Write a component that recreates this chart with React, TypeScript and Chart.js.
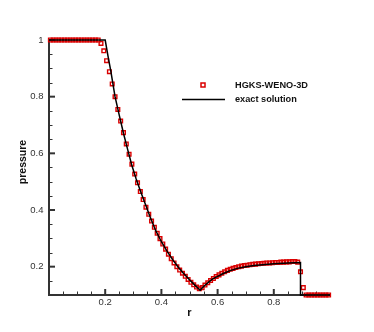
import React, { useEffect, useRef } from "react";
import { Chart, registerables } from "chart.js";
Chart.register(...registerables);

// ---- data ----
const numR = [
  0.005, 0.015, 0.025, 0.035, 0.045, 0.055, 0.065, 0.075, 0.085, 0.095,
  0.105, 0.115, 0.125, 0.135, 0.145, 0.155, 0.165, 0.175, 0.185, 0.195,
  0.205, 0.215, 0.225, 0.235, 0.245, 0.255, 0.265, 0.275, 0.285, 0.295,
  0.305, 0.315, 0.325, 0.335, 0.345, 0.355, 0.365, 0.375, 0.385, 0.395,
  0.405, 0.415, 0.425, 0.435, 0.445, 0.455, 0.465, 0.475, 0.485, 0.495,
  0.505, 0.515, 0.525, 0.535, 0.545, 0.555, 0.565, 0.575, 0.585, 0.595,
  0.605, 0.615, 0.625, 0.635, 0.645, 0.655, 0.665, 0.675, 0.685, 0.695,
  0.705, 0.715, 0.725, 0.735, 0.745, 0.755, 0.765, 0.775, 0.785, 0.795,
  0.805, 0.815, 0.825, 0.835, 0.845, 0.855, 0.865, 0.875, 0.885, 0.895,
  0.905, 0.915, 0.925, 0.935, 0.945, 0.955, 0.965, 0.975, 0.985, 0.995,
];
const numP = [
  1, 1, 1, 1, 1, 1, 1, 1, 1, 1,
  1, 1, 1, 1, 1, 1, 1, 1, 0.988, 0.962,
  0.927, 0.888, 0.845, 0.8, 0.755, 0.714, 0.673, 0.633, 0.597, 0.562,
  0.527, 0.496, 0.465, 0.437, 0.41, 0.385, 0.361, 0.339, 0.318, 0.299,
  0.28, 0.262, 0.244, 0.228, 0.213, 0.2, 0.188, 0.177, 0.166, 0.155,
  0.145, 0.136, 0.128, 0.122, 0.126, 0.135, 0.143, 0.151, 0.158, 0.165,
  0.171, 0.177, 0.182, 0.187, 0.191, 0.194, 0.197, 0.2, 0.202, 0.204,
  0.205, 0.207, 0.208, 0.209, 0.21, 0.211, 0.212, 0.213, 0.213, 0.214,
  0.215, 0.215, 0.216, 0.216, 0.217, 0.217, 0.218, 0.218, 0.216, 0.182,
  0.126, 0.1, 0.1, 0.1, 0.1, 0.1, 0.1, 0.1, 0.1, 0.1,
];
const exactR = [
  0, 0.2, 0.21, 0.22, 0.235, 0.25, 0.265, 0.28, 0.295, 0.31, 0.325, 0.34,
  0.36, 0.38, 0.4, 0.42, 0.44, 0.46, 0.48, 0.5, 0.52, 0.538, 0.55, 0.565,
  0.58, 0.6, 0.62, 0.645, 0.67, 0.7, 0.73, 0.76, 0.8, 0.85, 0.895, 0.895, 1.0,
];
const exactP = [
  1, 1, 0.943, 0.89, 0.8, 0.735, 0.671, 0.613, 0.557, 0.51, 0.468, 0.428,
  0.375, 0.327, 0.288, 0.255, 0.225, 0.198, 0.175, 0.154, 0.134, 0.117, 0.13, 0.143,
  0.155, 0.166, 0.176, 0.186, 0.194, 0.2, 0.204, 0.207, 0.21, 0.213, 0.215, 0.1, 0.1,
];
const xTicks = [0.2, 0.4, 0.6, 0.8];
const yTicks = [0.2, 0.4, 0.6, 0.8, 1];
const xMinor = [0.05, 0.1, 0.15, 0.25, 0.3, 0.35, 0.45, 0.5, 0.55, 0.65, 0.7, 0.75, 0.85, 0.9, 0.95];
const yMinor = [0.15, 0.25, 0.3, 0.35, 0.45, 0.5, 0.55, 0.65, 0.7, 0.75, 0.85, 0.9, 0.95];
const seriesNames = ["HGKS-WENO-3D", "exact solution"];
const xTitle = "r";
const yTitle = "pressure";

const FONT = "'Liberation Sans', Arial, Helvetica, sans-serif";
const AXIS = "#333333";
const RED = "rgb(218,0,0)";

const decor = {
  id: "decor",
  beforeDatasetsDraw(chart: any) {
    const { ctx, chartArea: a, scales } = chart;
    const x = scales.x;
    const y = scales.y;
    const seg = (x1: number, y1: number, x2: number, y2: number) => {
      ctx.beginPath();
      ctx.moveTo(x1, y1);
      ctx.lineTo(x2, y2);
      ctx.stroke();
    };
    ctx.save();
    ctx.strokeStyle = AXIS;
    ctx.lineWidth = 1;
    xMinor.forEach((v) => {
      const p = Math.round(x.getPixelForValue(v)) + 0.5;
      seg(p, a.bottom, p, a.bottom - 3.5);
    });
    yMinor.forEach((v) => {
      const p = Math.round(y.getPixelForValue(v)) + 0.5;
      seg(a.left, p, a.left + 3.5, p);
    });
    ctx.lineWidth = 2;
    xTicks.forEach((v) => {
      const p = x.getPixelForValue(v);
      seg(p, a.bottom, p, a.bottom - 6);
    });
    yTicks.forEach((v) => {
      const p = y.getPixelForValue(v);
      seg(a.left, p, a.left + 6, p);
    });
    seg(a.left, a.top - 0.5, a.left, a.bottom + 1);
    seg(a.left - 1, a.bottom, a.right, a.bottom);
    ctx.restore();
  },
  afterDraw(chart: any) {
    const { ctx, chartArea: a } = chart;
    ctx.save();
    ctx.fillStyle = "#111";
    ctx.textAlign = "center";
    ctx.textBaseline = "middle";
    ctx.font = `bold 11px ${FONT}`;
    ctx.fillText(xTitle, (a.left + a.right) / 2, 312.5);
    ctx.save();
    ctx.translate(23.5, 162);
    ctx.rotate(-Math.PI / 2);
    ctx.font = `bold 10.5px ${FONT}`;
    ctx.fillText(yTitle, 0, 0);
    ctx.restore();
    // legend
    ctx.strokeStyle = RED;
    ctx.lineWidth = 1.5;
    ctx.strokeRect(203 - 2, 85 - 2, 4, 4);
    ctx.strokeStyle = "#000";
    ctx.lineWidth = 1.5;
    ctx.beginPath();
    ctx.moveTo(182, 99.5);
    ctx.lineTo(225, 99.5);
    ctx.stroke();
    ctx.textAlign = "left";
    ctx.font = `bold 9.2px ${FONT}`;
    ctx.fillStyle = "#111";
    ctx.fillText(seriesNames[0], 235, 85);
    ctx.fillText(seriesNames[1], 235, 99.5);
    ctx.restore();
  },
};

export default function App() {
  const ref = useRef<HTMLCanvasElement | null>(null);
  useEffect(() => {
    if (!ref.current) return;
    const chart = new Chart(ref.current, {
      type: "scatter",
      data: {
        datasets: [
          {
            label: seriesNames[1],
            data: exactR.map((r, i) => ({ x: r, y: exactP[i] })),
            showLine: true,
            borderColor: "#000",
            borderWidth: 1.5,
            pointRadius: 0,
            tension: 0,
            clip: false as any,
            order: 0,
          },
          {
            label: seriesNames[0],
            data: numR.map((r, i) => ({ x: r, y: numP[i] })),
            showLine: false,
            pointStyle: "rect",
            pointRadius: 2.6,
            pointBorderWidth: 1.4,
            pointBorderColor: RED,
            pointBackgroundColor: "rgba(0,0,0,0)",
            borderColor: RED,
            backgroundColor: "rgba(0,0,0,0)",
            clip: false as any,
            order: 1,
          },
        ],
      },
      options: {
        responsive: false,
        animation: false,
        devicePixelRatio: 1,
        layout: { padding: { left: 0, top: 40, right: 44, bottom: 0 } },
        plugins: { legend: { display: false }, tooltip: { enabled: false } },
        scales: {
          x: {
            type: "linear",
            min: 0,
            max: 1,
            grid: { display: false, drawTicks: false },
            border: { display: false },
            afterBuildTicks: (s: any) => {
              s.ticks = xTicks.map((v) => ({ value: v }));
            },
            afterFit: (s: any) => {
              s.height = 37;
            },
            ticks: {
              padding: 2,
              color: AXIS,
              font: { family: FONT, size: 9.5 },
              maxRotation: 0,
              autoSkip: false,
              callback: (v: any) => String(v),
            },
          },
          y: {
            type: "linear",
            min: 0.1,
            max: 1,
            grid: { display: false, drawTicks: false },
            border: { display: false },
            afterBuildTicks: (s: any) => {
              s.ticks = yTicks.map((v) => ({ value: v }));
            },
            afterFit: (s: any) => {
              s.width = 49;
            },
            ticks: {
              padding: 5.5,
              color: AXIS,
              font: { family: FONT, size: 9.5 },
              autoSkip: false,
              callback: (v: any) => String(v),
            },
          },
        },
      },
      plugins: [decor],
    });
    return () => chart.destroy();
  }, []);
  return (
    <div style={{ position: "fixed", left: 0, top: 0, width: 374, height: 332, background: "#fff" }}>
      <canvas ref={ref} width={374} height={332} style={{ width: 374, height: 332, display: "block" }} />
    </div>
  );
}
